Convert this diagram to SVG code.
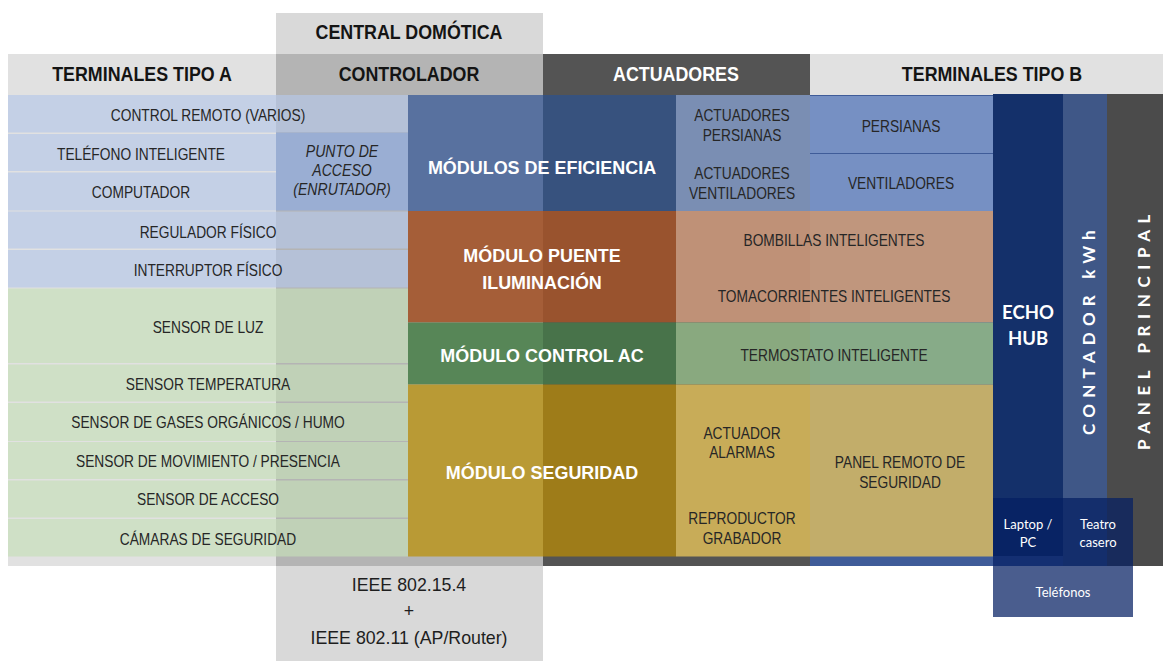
<svg xmlns="http://www.w3.org/2000/svg" width="1163" height="661" viewBox="0 0 1163 661">
<style>
  .r{font-family:"Liberation Sans",Arial,sans-serif;font-size:16px;fill:#262626;text-anchor:middle}
  .ri{font-family:"Liberation Sans",Arial,sans-serif;font-size:16px;font-style:italic;fill:#262626;text-anchor:middle}
  .h{font-family:"Liberation Sans",Arial,sans-serif;font-size:21px;font-weight:bold;fill:#141414;text-anchor:middle}
  .m{font-family:"Liberation Sans",Arial,sans-serif;font-size:18.5px;font-weight:bold;fill:#ffffff;text-anchor:middle}
  .ie{font-family:"Liberation Sans",Arial,sans-serif;font-size:18.5px;fill:#1e1e1e;text-anchor:middle}
  .c{font-family:Lato,"Open Sans",sans-serif;fill:#ffffff;text-anchor:middle}
  .cb{font-family:Lato,"Open Sans",sans-serif;font-weight:bold;font-size:18.5px;fill:#ffffff;text-anchor:middle}
  .v{font-family:Lato,"Open Sans",sans-serif;font-size:17px;font-weight:bold;fill:#ffffff;text-anchor:middle}
  .rowB{fill:#b6c8e9;fill-opacity:.67}
  .rowG{fill:#c6e0b9;fill-opacity:.67}
</style>

<g id="columns">
  <rect x="8" y="54" width="268" height="512" fill="#e1e1e1"/>
  <rect x="276" y="54" width="267" height="512" fill="#b4b4b4"/>
  <rect x="543" y="54" width="267" height="512" fill="#545454"/>
  <rect x="810" y="54" width="353" height="41" fill="#e1e1e1"/>
  <rect x="810" y="95" width="297" height="471" fill="#3f5c99"/>
</g>

<g id="central-domotica">
  <rect x="276" y="13" width="267" height="41" fill="#d9d9d9"/>
  <text class="h" transform="translate(409 39) scale(.85 1)">CENTRAL DOMÓTICA</text>
</g>

<g id="headers">
  <text class="h" transform="translate(142 81) scale(.85 1)">TERMINALES TIPO A</text>
  <text class="h" transform="translate(409 81) scale(.85 1)">CONTROLADOR</text>
  <text class="h" transform="translate(676 81) scale(.85 1)" style="fill:#ffffff">ACTUADORES</text>
  <text class="h" transform="translate(992 81) scale(.85 1)">TERMINALES TIPO B</text>
</g>

<g id="terminales-a">
  <g id="control-remoto"><rect class="rowB" x="8" y="95" width="400" height="37.5"/>
    <text class="r" transform="translate(208 121) scale(.86 1)">CONTROL REMOTO (VARIOS)</text></g>
  <g id="telefono"><rect class="rowB" x="8" y="134" width="268" height="37"/>
    <text class="r" transform="translate(141 160) scale(.86 1)">TELÉFONO INTELIGENTE</text></g>
  <g id="computador"><rect class="rowB" x="8" y="172.5" width="268" height="38"/>
    <text class="r" transform="translate(141 198) scale(.86 1)">COMPUTADOR</text></g>
  <g id="regulador"><rect class="rowB" x="8" y="211.5" width="400" height="37"/>
    <text class="r" transform="translate(208 238) scale(.86 1)">REGULADOR FÍSICO</text></g>
  <g id="interruptor"><rect class="rowB" x="8" y="250" width="400" height="37.5"/>
    <text class="r" transform="translate(208 276) scale(.86 1)">INTERRUPTOR FÍSICO</text></g>
  <g id="sensor-luz"><rect class="rowG" x="8" y="288.5" width="400" height="74.5"/>
    <text class="r" transform="translate(208 333) scale(.86 1)">SENSOR DE LUZ</text></g>
  <g id="sensor-temp"><rect class="rowG" x="8" y="364.5" width="400" height="37"/>
    <text class="r" transform="translate(208 390) scale(.86 1)">SENSOR TEMPERATURA</text></g>
  <g id="sensor-gases"><rect class="rowG" x="8" y="403" width="400" height="38"/>
    <text class="r" transform="translate(208 428) scale(.86 1)">SENSOR DE GASES ORGÁNICOS / HUMO</text></g>
  <g id="sensor-mov"><rect class="rowG" x="8" y="442" width="400" height="37"/>
    <text class="r" transform="translate(208 467) scale(.86 1)">SENSOR DE MOVIMIENTO / PRESENCIA</text></g>
  <g id="sensor-acceso"><rect class="rowG" x="8" y="480.5" width="400" height="37"/>
    <text class="r" transform="translate(208 505) scale(.86 1)">SENSOR DE ACCESO</text></g>
  <g id="camaras"><rect class="rowG" x="8" y="519" width="400" height="37.5"/>
    <text class="r" transform="translate(208 545) scale(.86 1)">CÁMARAS DE SEGURIDAD</text></g>
</g>

<g id="punto-acceso">
  <rect x="276" y="132.5" width="132" height="78" fill="#9aaed3"/>
  <text class="ri" transform="translate(342 157) scale(.88 1)">PUNTO DE</text>
  <text class="ri" transform="translate(342 176) scale(.88 1)">ACCESO</text>
  <text class="ri" transform="translate(342 195) scale(.88 1)">(ENRUTADOR)</text>
</g>

<g id="modulo-eficiencia">
  <rect x="408" y="95" width="135" height="116" fill="#58719f"/>
  <rect x="543" y="95" width="133" height="116" fill="#37527e"/>
  <text class="m" transform="translate(542 174) scale(.97 1)">MÓDULOS DE EFICIENCIA</text>
</g>
<g id="modulo-puente">
  <rect x="408" y="211" width="135" height="111.5" fill="#a55e38"/>
  <rect x="543" y="211" width="133" height="111.5" fill="#99532e"/>
  <text class="m" transform="translate(542 262) scale(.97 1)">MÓDULO PUENTE</text>
  <text class="m" transform="translate(542 289) scale(.97 1)">ILUMINACIÓN</text>
</g>
<g id="modulo-ac">
  <rect x="408" y="322.5" width="135" height="62" fill="#578657"/>
  <rect x="543" y="322.5" width="133" height="62" fill="#48734a"/>
  <text class="m" transform="translate(542 362) scale(.97 1)">MÓDULO CONTROL AC</text>
</g>
<g id="modulo-seguridad">
  <rect x="408" y="384.5" width="135" height="172" fill="#b99a35"/>
  <rect x="543" y="384.5" width="133" height="172" fill="#9e7c19"/>
  <text class="m" transform="translate(542 479) scale(.97 1)">MÓDULO SEGURIDAD</text>
</g>

<g id="actuadores-eficiencia">
  <rect x="676" y="95" width="134" height="116" fill="#7a8eb3"/>
  <text class="r" transform="translate(742 121) scale(.86 1)">ACTUADORES</text>
  <text class="r" transform="translate(742 141) scale(.86 1)">PERSIANAS</text>
  <text class="r" transform="translate(742 179) scale(.86 1)">ACTUADORES</text>
  <text class="r" transform="translate(742 199) scale(.86 1)">VENTILADORES</text>
</g>
<g id="persianas">
  <rect x="810" y="96" width="183" height="57" fill="#7690c3"/>
  <text class="r" transform="translate(901 132) scale(.86 1)">PERSIANAS</text>
</g>
<g id="ventiladores">
  <rect x="810" y="154" width="183" height="57" fill="#7690c3"/>
  <text class="r" transform="translate(901 189) scale(.86 1)">VENTILADORES</text>
</g>
<g id="iluminacion">
  <rect x="676" y="211" width="134" height="111.5" fill="#bf9177"/>
  <rect x="810" y="211" width="183" height="111.5" fill="#c0967d"/>
  <text class="r" transform="translate(834 246) scale(.86 1)">BOMBILLAS INTELIGENTES</text>
  <text class="r" transform="translate(834 302) scale(.86 1)">TOMACORRIENTES INTELIGENTES</text>
</g>
<g id="termostato">
  <rect x="676" y="322.5" width="134" height="62" fill="#89a97f"/>
  <rect x="810" y="322.5" width="183" height="62" fill="#87ab88"/>
  <text class="r" transform="translate(834 361) scale(.86 1)">TERMOSTATO INTELIGENTE</text>
</g>
<g id="seguridad">
  <rect x="676" y="384.5" width="134" height="172" fill="#c8ac58"/>
  <rect x="810" y="384.5" width="183" height="172" fill="#c2ad6a"/>
  <text class="r" transform="translate(742 439) scale(.86 1)">ACTUADOR</text>
  <text class="r" transform="translate(742 458) scale(.86 1)">ALARMAS</text>
  <text class="r" transform="translate(742 524) scale(.86 1)">REPRODUCTOR</text>
  <text class="r" transform="translate(742 544) scale(.86 1)">GRABADOR</text>
  <text class="r" transform="translate(900 468) scale(.86 1)">PANEL REMOTO DE</text>
  <text class="r" transform="translate(900 488) scale(.86 1)">SEGURIDAD</text>
</g>

<g id="echo-hub">
  <rect x="993" y="94" width="70" height="462" fill="#14306a"/>
  <text class="cb" x="1028" y="319">ECHO</text>
  <text class="cb" x="1028" y="345">HUB</text>
</g>
<g id="contador">
  <rect x="1063" y="94" width="44" height="472" fill="#3f5787"/>
  <text class="v" letter-spacing="6.2" transform="translate(1094.5 329.5) rotate(-90)">CONTADOR kWh</text>
</g>
<g id="panel-principal">
  <rect x="1107" y="94" width="56" height="472" fill="#4b4b4b"/>
  <text class="v" letter-spacing="6.6" transform="translate(1149.5 329) rotate(-90)">PANEL PRINCIPAL</text>
</g>

<g id="dispositivos">
  <rect x="993" y="498" width="140" height="119" fill="#041f62" fill-opacity=".72"/>
  <text class="c" font-size="13" x="1028" y="529">Laptop /</text>
  <text class="c" font-size="13" x="1028" y="546.5">PC</text>
  <text class="c" font-size="13" x="1098" y="529">Teatro</text>
  <text class="c" font-size="13" x="1098" y="546.5">casero</text>
  <text class="c" font-size="13" x="1063" y="597">Teléfonos</text>
</g>

<g id="protocolos">
  <rect x="276" y="566" width="267" height="95" fill="#d9d9d9"/>
  <text class="ie" transform="translate(409 591) scale(.96 1)">IEEE 802.15.4</text>
  <text class="ie" transform="translate(409 617) scale(.96 1)">+</text>
  <text class="ie" transform="translate(409 643.5) scale(.96 1)">IEEE 802.11 (AP/Router)</text>
</g>

<g id="connectors"/>
</svg>
